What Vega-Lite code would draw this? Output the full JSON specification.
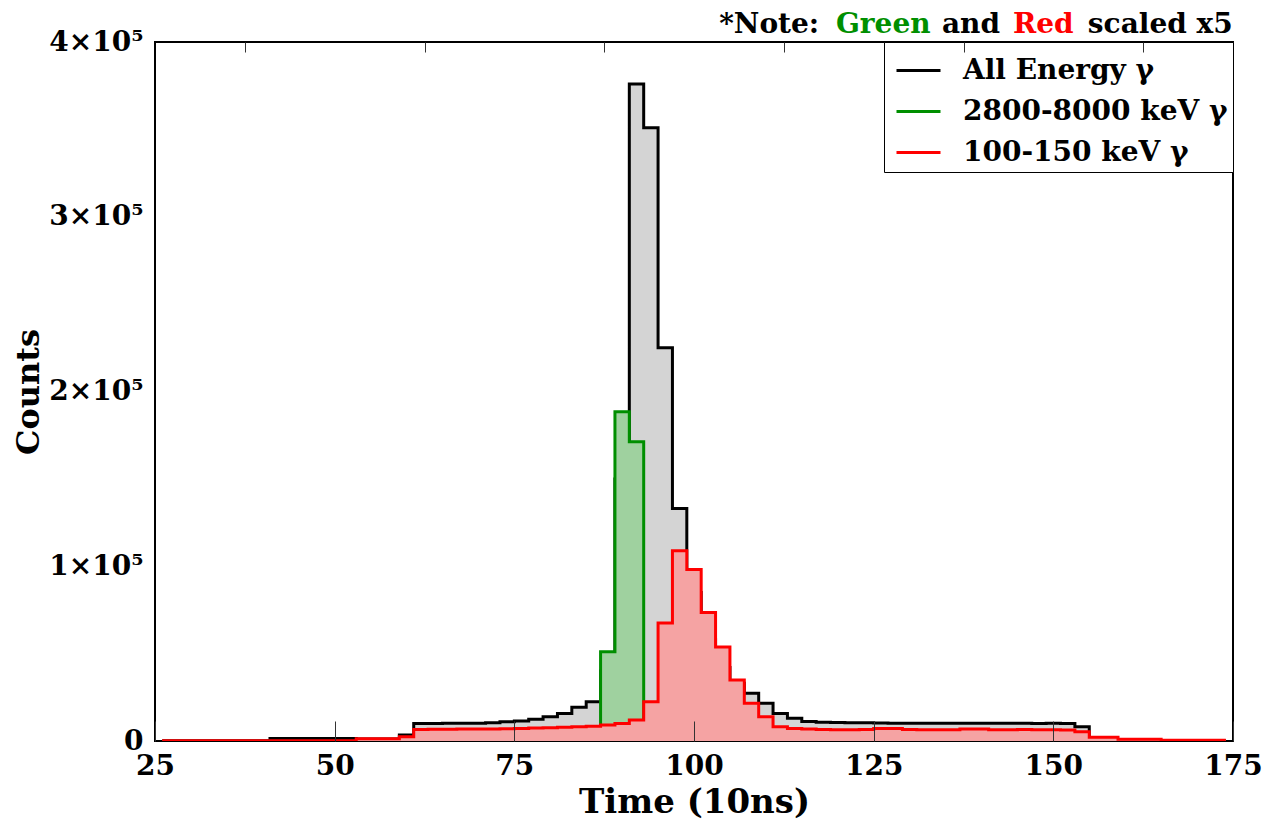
{
"$schema": "https://vega.github.io/schema/vega-lite/v6.json",
"width": 1078, "height": 699,
"autosize": {"type": "none"},
"padding": {"left": 155, "top": 42, "right": 38, "bottom": 81},
"background": "white",
"config": {"font": "DejaVu Serif", "view": {"stroke": "black", "strokeWidth": 2}},
"resolve": {"axis": {"x": "independent"}},
"datasets": {"h": [
{"t":26,"s":"A","c":150},{"t":28,"s":"A","c":150},{"t":30,"s":"A","c":150},{"t":32,"s":"A","c":150},{"t":34,"s":"A","c":150},{"t":36,"s":"A","c":150},{"t":38,"s":"A","c":150},{"t":40,"s":"A","c":150},
{"t":42,"s":"A","c":1500},{"t":44,"s":"A","c":1500},{"t":46,"s":"A","c":1500},{"t":48,"s":"A","c":1500},{"t":50,"s":"A","c":1500},{"t":52,"s":"A","c":1500},
{"t":54,"s":"A","c":1200},{"t":56,"s":"A","c":1200},{"t":58,"s":"A","c":1200},{"t":60,"s":"A","c":3400},
{"t":62,"s":"A","c":10000},{"t":64,"s":"A","c":10000},{"t":66,"s":"A","c":10100},{"t":68,"s":"A","c":10100},{"t":70,"s":"A","c":10200},{"t":72,"s":"A","c":10400},
{"t":74,"s":"A","c":11000},{"t":76,"s":"A","c":11500},{"t":78,"s":"A","c":12400},{"t":80,"s":"A","c":13900},{"t":82,"s":"A","c":15800},{"t":84,"s":"A","c":19300},{"t":86,"s":"A","c":22500},
{"t":88,"s":"A","c":40000},{"t":90,"s":"A","c":150000},{"t":92,"s":"A","c":376000},{"t":94,"s":"A","c":351000},{"t":96,"s":"A","c":225000},{"t":98,"s":"A","c":133000},
{"t":100,"s":"A","c":85000},{"t":102,"s":"A","c":58000},{"t":104,"s":"A","c":42000},{"t":106,"s":"A","c":33000},{"t":108,"s":"A","c":27300},{"t":110,"s":"A","c":21600},{"t":112,"s":"A","c":15800},{"t":114,"s":"A","c":13000},
{"t":116,"s":"A","c":11100},{"t":118,"s":"A","c":10800},{"t":120,"s":"A","c":10600},{"t":122,"s":"A","c":10500},{"t":124,"s":"A","c":10400},
{"t":126,"s":"A","c":10300},{"t":128,"s":"A","c":10200},{"t":130,"s":"A","c":10200},{"t":132,"s":"A","c":10100},{"t":134,"s":"A","c":10200},{"t":136,"s":"A","c":10100},{"t":138,"s":"A","c":10200},{"t":140,"s":"A","c":10100},{"t":142,"s":"A","c":10100},{"t":144,"s":"A","c":10200},{"t":146,"s":"A","c":10100},{"t":148,"s":"A","c":10000},{"t":150,"s":"A","c":10100},{"t":152,"s":"A","c":10000},
{"t":154,"s":"A","c":8200},{"t":156,"s":"A","c":500},{"t":158,"s":"A","c":300},
{"t":160,"s":"A","c":150},{"t":162,"s":"A","c":150},{"t":164,"s":"A","c":150},{"t":166,"s":"A","c":150},{"t":168,"s":"A","c":150},{"t":170,"s":"A","c":150},{"t":172,"s":"A","c":150},{"t":174,"s":"A","c":150},
{"t":86,"s":"G","c":0},{"t":88,"s":"G","c":51100},{"t":90,"s":"G","c":188400},{"t":92,"s":"G","c":171300},{"t":94,"s":"G","c":0},
{"t":26,"s":"R","c":200},{"t":28,"s":"R","c":200},{"t":30,"s":"R","c":200},{"t":32,"s":"R","c":200},{"t":34,"s":"R","c":200},{"t":36,"s":"R","c":200},{"t":38,"s":"R","c":200},{"t":40,"s":"R","c":200},{"t":42,"s":"R","c":200},{"t":44,"s":"R","c":200},{"t":46,"s":"R","c":200},{"t":48,"s":"R","c":200},{"t":50,"s":"R","c":200},{"t":52,"s":"R","c":200},
{"t":54,"s":"R","c":1300},{"t":56,"s":"R","c":1300},{"t":58,"s":"R","c":1300},{"t":60,"s":"R","c":2500},
{"t":62,"s":"R","c":6600},{"t":64,"s":"R","c":6700},{"t":66,"s":"R","c":6700},{"t":68,"s":"R","c":6800},{"t":70,"s":"R","c":6800},{"t":72,"s":"R","c":6900},{"t":74,"s":"R","c":7000},{"t":76,"s":"R","c":7200},{"t":78,"s":"R","c":7400},{"t":80,"s":"R","c":7600},{"t":82,"s":"R","c":7900},{"t":84,"s":"R","c":8200},{"t":86,"s":"R","c":8400},{"t":88,"s":"R","c":9200},{"t":90,"s":"R","c":10000},{"t":92,"s":"R","c":12000},
{"t":94,"s":"R","c":22500},{"t":96,"s":"R","c":67500},{"t":98,"s":"R","c":108900},{"t":100,"s":"R","c":98200},{"t":102,"s":"R","c":73500},{"t":104,"s":"R","c":53800},{"t":106,"s":"R","c":34900},{"t":108,"s":"R","c":21600},{"t":110,"s":"R","c":13900},{"t":112,"s":"R","c":8200},{"t":114,"s":"R","c":7200},
{"t":116,"s":"R","c":6800},{"t":118,"s":"R","c":6600},{"t":120,"s":"R","c":6500},{"t":122,"s":"R","c":6500},{"t":124,"s":"R","c":6600},{"t":126,"s":"R","c":7100},{"t":128,"s":"R","c":7200},{"t":130,"s":"R","c":6600},{"t":132,"s":"R","c":6400},{"t":134,"s":"R","c":6400},{"t":136,"s":"R","c":6500},{"t":138,"s":"R","c":6800},{"t":140,"s":"R","c":6900},{"t":142,"s":"R","c":6500},{"t":144,"s":"R","c":6400},{"t":146,"s":"R","c":6600},{"t":148,"s":"R","c":6500},{"t":150,"s":"R","c":6400},{"t":152,"s":"R","c":6300},
{"t":154,"s":"R","c":5300},{"t":156,"s":"R","c":2100},{"t":158,"s":"R","c":2100},{"t":160,"s":"R","c":1000},{"t":162,"s":"R","c":1000},{"t":164,"s":"R","c":1000},
{"t":166,"s":"R","c":400},{"t":168,"s":"R","c":400},{"t":170,"s":"R","c":400},{"t":172,"s":"R","c":400},{"t":174,"s":"R","c":400}
]},
"layer": [
 {"data": {"name": "h"},
  "encoding": {
  "x": {"field": "t", "type": "quantitative",
    "scale": {"domain": [25, 175], "nice": false, "zero": false},
    "axis": {"values": [25,50,75,100,125,150,175], "format": "d", "labelFlush": false, "labelOverlap": false, "offset": -20,
      "ticks": true, "tickSize": 20, "tickColor": "#333333", "tickWidth": 1, "domain": false, "grid": false, "zindex": 2,
      "labelFont": "DejaVu Serif", "labelFontSize": 28, "labelFontWeight": "bold", "labelColor": "black", "labelPadding": 11,
      "title": "Time (10ns)", "titleFont": "DejaVu Serif", "titleFontSize": 34, "titleFontWeight": "bold", "titleColor": "black",
      "titleY": 81, "titleBaseline": "middle"}},
  "y": {"field": "c", "type": "quantitative",
    "scale": {"domain": [0, 400000], "nice": false},
    "axis": {"values": [0,100000,200000,300000,400000],
      "labelExpr": "datum.value === 0 ? '0' : format(datum.value/100000, 'd') + '×10⁵'",
      "ticks": false, "domain": false, "grid": false,
      "labelFont": "DejaVu Serif", "labelFontSize": 28, "labelFontWeight": "bold", "labelColor": "black", "labelPadding": 12,
      "title": "Counts", "titleFont": "DejaVu Serif", "titleFontSize": 32, "titleFontWeight": "bold", "titleColor": "black",
      "titleX": -127, "titleY": 349.5, "titleAngle": -90, "titleBaseline": "middle", "titleAlign": "center"}}
  },
  "layer": [
  {"transform": [{"filter": "datum.s === 'A'"}], "mark": {"type": "area", "interpolate": "step", "fill": "#d4d4d4", "fillOpacity": 1}},
  {"transform": [{"filter": "datum.s === 'A'"}], "mark": {"type": "line", "interpolate": "step", "strokeWidth": 3, "strokeJoin": "miter", "clip": true},
   "encoding": {"stroke": {"field": "s", "type": "nominal",
     "scale": {"domain": ["A","G","R"], "range": ["#000000","#008f00","#ff0000"]},
     "legend": {"title": null, "orient": "top-right", "offset": 0, "symbolType": "stroke", "symbolSize": 1936, "symbolStrokeWidth": 3, "symbolOffset": 6,
       "labelFont": "DejaVu Serif", "labelFontSize": 28, "labelFontWeight": "bold", "labelColor": "black", "labelOffset": 21, "labelLimit": 500,
       "rowPadding": 3, "padding": 5, "fillColor": "white", "strokeColor": "black",
       "labelExpr": "datum.label === 'A' ? 'All Energy γ' : datum.label === 'G' ? '2800-8000 keV γ' : '100-150 keV γ'"}}}},
  {"transform": [{"filter": "datum.s === 'G'"}], "mark": {"type": "area", "interpolate": "step", "fill": "#9fd19f", "fillOpacity": 1}},
  {"transform": [{"filter": "datum.s === 'G'"}], "mark": {"type": "line", "interpolate": "step", "strokeWidth": 3, "strokeJoin": "miter", "clip": true},
   "encoding": {"stroke": {"field": "s", "type": "nominal", "scale": {"domain": ["A","G","R"], "range": ["#000000","#008f00","#ff0000"]}}}},
  {"transform": [{"filter": "datum.s === 'R'"}], "mark": {"type": "area", "interpolate": "step", "fill": "#f5a3a3", "fillOpacity": 1}},
  {"transform": [{"filter": "datum.s === 'R'"}], "mark": {"type": "line", "interpolate": "step", "strokeWidth": 3, "strokeJoin": "miter", "clip": true},
   "encoding": {"stroke": {"field": "s", "type": "nominal", "scale": {"domain": ["A","G","R"], "range": ["#000000","#008f00","#ff0000"]}}}}
  ]
 },
 {"data": {"values": [{"w": "*Note:"}]}, "mark": {"type": "text", "align": "left", "baseline": "alphabetic", "dy": -9, "font": "DejaVu Serif", "fontSize": 28, "fontWeight": "bold", "fill": "black"},
  "encoding": {"text": {"field": "w"},
   "x": {"datum": 103.5, "type": "quantitative",
     "axis": {"values": [37.5,62.5,87.5,112.5,137.5,162.5], "labels": false, "title": null, "domain": false, "grid": false, "offset": -10,
       "ticks": true, "tickSize": 10, "tickColor": "#333333", "tickWidth": 1, "zindex": 2}},
   "y": {"datum": 400000, "type": "quantitative"}}},
 {"data": {"values": [{"w": "Green"}]}, "mark": {"type": "text", "align": "left", "baseline": "alphabetic", "dy": -9, "font": "DejaVu Serif", "fontSize": 28, "fontWeight": "bold", "fill": "#008f00"},
  "encoding": {"text": {"field": "w"}, "x": {"datum": 119.75, "type": "quantitative", "axis": null}, "y": {"datum": 400000, "type": "quantitative"}}},
 {"data": {"values": [{"w": "and"}]}, "mark": {"type": "text", "align": "left", "baseline": "alphabetic", "dy": -9, "font": "DejaVu Serif", "fontSize": 28, "fontWeight": "bold", "fill": "black"},
  "encoding": {"text": {"field": "w"}, "x": {"datum": 134.5, "type": "quantitative", "axis": null}, "y": {"datum": 400000, "type": "quantitative"}}},
 {"data": {"values": [{"w": "Red"}]}, "mark": {"type": "text", "align": "left", "baseline": "alphabetic", "dy": -9, "font": "DejaVu Serif", "fontSize": 28, "fontWeight": "bold", "fill": "#ff0000"},
  "encoding": {"text": {"field": "w"}, "x": {"datum": 144.38, "type": "quantitative", "axis": null}, "y": {"datum": 400000, "type": "quantitative"}}},
 {"data": {"values": [{"w": "scaled x5"}]}, "mark": {"type": "text", "align": "left", "baseline": "alphabetic", "dy": -9, "font": "DejaVu Serif", "fontSize": 28, "fontWeight": "bold", "fill": "black"},
  "encoding": {"text": {"field": "w"}, "x": {"datum": 154.8, "type": "quantitative", "axis": null}, "y": {"datum": 400000, "type": "quantitative"}}}
]
}
